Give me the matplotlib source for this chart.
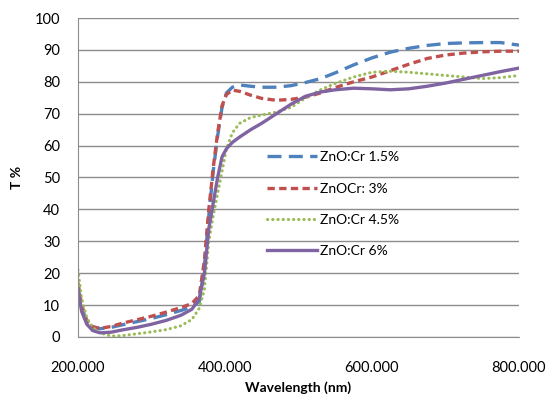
import matplotlib
matplotlib.use("Agg")
import matplotlib.pyplot as plt

plt.rcParams['font.family'] = ['Lato', 'DejaVu Sans']

# wavelength grid (nm)
wavelength = [200, 205, 212, 220, 230, 245, 260, 280, 300, 320, 340, 355, 365, 372,
              378, 384, 390, 396, 402, 410, 420, 435, 450, 470, 490, 510, 530, 550,
              575, 600, 625, 650, 675, 700, 725, 750, 775, 800]

# transmittance (%) per sample
t_cr15 = [16, 9, 5, 3.2, 2.6, 3, 3.8, 4.8, 5.8, 7, 8.3, 9.5, 11, 22,
          38, 52, 63, 72, 76.5, 78.3, 79, 78.6, 78.3, 78.3, 78.8, 79.8, 81, 82.8,
          85.3, 87.5, 89.3, 90.5, 91.4, 92, 92.2, 92.3, 92.3, 91.5]
t_cr3 = [17, 10, 5, 3.2, 2.7, 3.3, 4.3, 5.4, 6.5, 7.8, 9.2, 10.5, 13, 24,
         40, 53, 64, 72.5, 76, 77.4, 77, 75.8, 74.8, 74.2, 74.5, 75.2, 76.5, 78.2,
         80, 81.5, 83.5, 85.5, 87.3, 88.4, 89, 89.4, 89.6, 89.6]
t_cr45 = [21, 12, 6, 3, 1.3, 0.3, 0.4, 1, 1.6, 2.3, 3.5, 5.5, 9, 15,
          30, 38, 45, 52, 59, 64, 67, 68.8, 69.6, 70.5, 72, 75, 77.5, 79.5,
          81.5, 83, 83.3, 83, 82.5, 82, 81.5, 81, 81.3, 82]
t_cr6 = [15, 8, 4, 2, 1.3, 1.5, 2.2, 3, 4, 5.2, 6.8, 8.7, 12, 20,
         34, 42, 50, 56.5, 59, 61, 62.7, 65, 67, 70, 73, 75.5, 76.8, 77.5,
         78, 77.8, 77.5, 77.8, 78.6, 79.6, 80.8, 82, 83.2, 84.3]

labels = ['ZnO:Cr 1.5%', 'ZnOCr: 3%', 'ZnO:Cr 4.5%', 'ZnO:Cr 6%']

fig = plt.figure(figsize=(5.5, 3.94), dpi=100)
ax = fig.add_axes([0.1418, 0.1447, 0.8018, 0.8096])

ax.plot(wavelength, t_cr15, color='#4F81BD', lw=2.4, dashes=(4.2, 2.2), label=labels[0])
ax.plot(wavelength, t_cr3, color='#C0504D', lw=2.4, dashes=(2.2, 1.3), label=labels[1])
ax.plot(wavelength, t_cr45, color='#9BBB59', lw=2.2, dashes=(0.1, 1.6),
        dash_capstyle='round', label=labels[2])
ax.plot(wavelength, t_cr6, color='#8064A2', lw=2.4, label=labels[3])

ax.set_xlim(200, 800)
ax.set_ylim(0, 100)
ax.set_xticks([200, 400, 600, 800])
ax.set_xticklabels(['200.000', '400.000', '600.000', '800.000'])
ax.set_yticks(range(0, 101, 10))
ax.yaxis.grid(True, color='#8c8c8c', lw=1)
ax.set_axisbelow(True)
for side in ['top', 'right']:
    ax.spines[side].set_visible(False)
for side in ['left', 'bottom']:
    ax.spines[side].set_color('#8c8c8c')
ax.tick_params(axis='both', length=0, labelsize=10.5, colors='black')
ax.tick_params(axis='x', pad=17)
ax.tick_params(axis='y', pad=13)

ax.set_xlabel('Wavelength (nm)', fontsize=10, fontweight='bold', labelpad=5)
ax.set_ylabel('T %', fontsize=10, fontweight='bold', labelpad=8)

ax.legend(loc='upper left', bbox_to_anchor=(0.428, 0.582), frameon=False,
          fontsize=10, handlelength=3.6, handletextpad=0.25, labelspacing=1.38,
          borderpad=0, borderaxespad=0)

fig.savefig('out.png', dpi=100)
